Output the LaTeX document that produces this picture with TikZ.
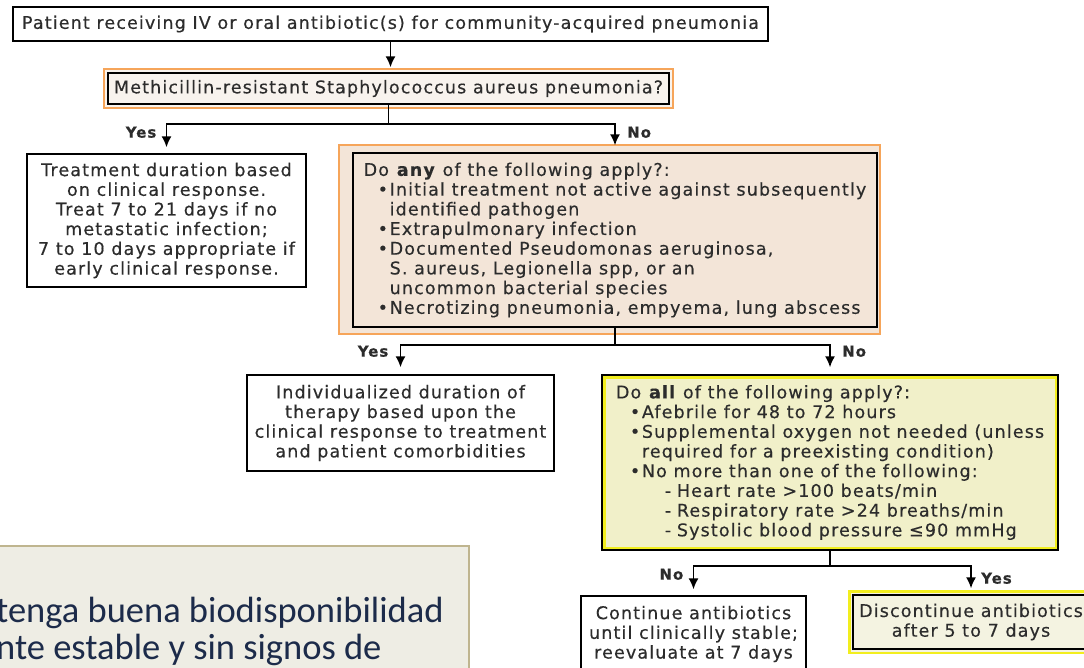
\documentclass[tikz,border=0pt]{standalone}
\usepackage{fontspec}
\usepackage{tikz}
\usetikzlibrary{arrows.meta}
\newfontfamily\chartfont[LetterSpace=6.5,FakeBold=0.4]{DejaVu Sans}
\newfontfamily\notefont{Carlito}

\definecolor{txtgray}{HTML}{2C2C2C}
\definecolor{orangeline}{HTML}{F6A55A}
\definecolor{peach}{HTML}{F3E5D8}
\definecolor{mrsafill}{HTML}{F8F3EE}
\definecolor{yellowline}{HTML}{F2EE1E}
\definecolor{yellowfill}{HTML}{F1F0C9}
\definecolor{discfill}{HTML}{F4F3E1}
\definecolor{notefill}{HTML}{EEEDE4}
\definecolor{noteline}{HTML}{BFB58F}
\definecolor{notecol}{HTML}{1C2B4A}

\newcommand\boxfont{\chartfont\fontsize{17.5}{19.7}\selectfont}
\newcommand\bul{\hspace*{14pt}\makebox[12pt][l]{•}}
\newcommand\contline{\hspace*{26pt}}
\newcommand\dashline{\hspace*{49pt}\makebox[12pt][l]{-}}

\pgfdeclarelayer{background}
\pgfsetlayers{background,main}

\tikzset{
  flowbox/.style={draw=black, line width=1.5pt, fill=white, inner sep=0pt,
    align=center, text=txtgray, font=\boxfont},
  orangeframe/.style={draw=orangeline, line width=2pt},
  yellowframe/.style={draw=yellowline, line width=2.5pt},
  wire/.style={draw=black, line width=1.5pt},
  flow/.style={wire, -{Latex[length=11pt,width=10pt]}},
  ans/.style={inner sep=0pt, text=txtgray, font=\chartfont\bfseries\fontsize{15}{18}\selectfont}
}

\begin{document}
\begin{tikzpicture}[x=1pt,y=-1pt]
\clip (0,0) rectangle (1084,667);

\node[flowbox, minimum width=755pt, minimum height=34pt] (start) at (390.5,24)
  {Patient receiving IV or oral antibiotic(s) for community-acquired pneumonia};

\node[flowbox, fill=mrsafill, minimum width=561pt, minimum height=31pt] (mrsa) at (388.5,88.5)
  {Methicillin-resistant Staphylococcus aureus pneumonia?};

\node[flowbox, minimum width=279pt, minimum height=133pt] (treat) at (166.5,220.5)
  {Treatment duration based\\on clinical response.\\Treat 7 to 21 days if no\\metastatic infection;\\7 to 10 days appropriate if\\early clinical response.};

\node[flowbox, fill=peach, align=left, minimum width=524pt, minimum height=174pt] (anybox) at (615,240)
  {Do \textbf{any} of the following apply?:\\
   \bul Initial treatment not active against subsequently\\
   \contline identified pathogen\\
   \bul Extrapulmonary infection\\
   \bul Documented Pseudomonas aeruginosa,\\
   \contline S. aureus, Legionella spp, or an\\
   \contline uncommon bacterial species\\
   \bul Necrotizing pneumonia, empyema, lung abscess};

\node[flowbox, minimum width=307pt, minimum height=96pt] (indiv) at (400.5,423)
  {Individualized duration of\\therapy based upon the\\clinical response to treatment\\and patient comorbidities};

\node[flowbox, fill=yellowfill, align=left, minimum width=456pt, minimum height=175pt] (cond) at (830,462.5)
  {Do \textbf{all} of the following apply?:\\
   \bul Afebrile for 48 to 72 hours\\
   \bul Supplemental oxygen not needed (unless\\
   \contline required for a preexisting condition)\\
   \bul No more than one of the following:\\
   \dashline Heart rate >100 beats/min\\
   \dashline Respiratory rate >24 breaths/min\\
   \dashline Systolic blood pressure ≤90 mmHg};
\draw[yellowframe] ([shift={(3,3)}]cond.north west) rectangle ([shift={(-3,-3)}]cond.south east);

\node[flowbox, minimum width=225pt, minimum height=76pt] (cont) at (693.5,634)
  {Continue antibiotics\\until clinically stable;\\reevaluate at 7 days};

\node[flowbox, fill=discfill, minimum width=236pt, minimum height=54pt] (disc) at (971,622)
  {Discontinue antibiotics\\after 5 to 7 days};

% coloured outer frames
\begin{pgfonlayer}{background}
\filldraw[orangeframe, fill=mrsafill] ([shift={(-3,-3)}]mrsa.north west) rectangle ([shift={(3,3)}]mrsa.south east);
\filldraw[orangeframe, fill=peach] ([shift={(-13,-7)}]anybox.north west) rectangle ([shift={(2,6)}]anybox.south east);
\filldraw[yellowframe, fill=discfill] ([shift={(-3,-3)}]disc.north west) rectangle ([shift={(3,3)}]disc.south east);
\end{pgfonlayer}

\draw[flow, shorten >=5pt] (start.south) -- (start.south |- mrsa.north);

\draw[wire] (mrsa.south) -- ++(0,19) coordinate (split1);
\draw[flow, shorten >=6pt] (split1) -| (treat.north);
\draw[flow, shorten >=7pt] (split1) -| (anybox.north);

\draw[wire] (anybox.south) -- ++(0,17) coordinate (split2);
\draw[flow, shorten >=7pt] (split2) -| (indiv.north);
\draw[flow, shorten >=7pt] (split2) -| (cond.north);

\draw[wire] (cond.south) -- ++(0,15) coordinate (split3);
\draw[flow, shorten >=6pt] (split3) -| (cont.north);
\draw[flow, shorten >=6pt] (split3) -| (disc.north);

\node[ans, anchor=east] (yes1) at ([shift={(-10,-21)}]treat.north) {Yes};
\node[ans, anchor=west] (no1) at ([shift={(12,-20)}]anybox.north) {No};
\node[ans, anchor=east] (yes2) at ([shift={(-12,-23)}]indiv.north) {Yes};
\node[ans, anchor=west] (no2) at ([shift={(12,-23)}]cond.north) {No};
\node[ans, anchor=east] (no3) at ([shift={(-10,-21)}]cont.north) {No};
\node[ans, anchor=west] (yes3) at ([shift={(10,-16)}]disc.north) {Yes};

% spanish note in the corner
\filldraw[draw=noteline, fill=notefill, line width=1.5pt] (-5,546) rectangle (469,680);
\node[inner sep=0pt, align=left, anchor=north west, text=notecol,
  font=\notefont\fontsize{36.5}{37}\selectfont] (note) at (-4,597)
  {tenga buena biodisponibilidad\\nte estable y sin signos de};
\end{tikzpicture}
\end{document}
